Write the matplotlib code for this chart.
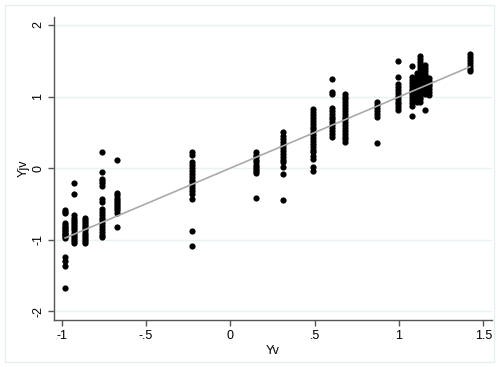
import matplotlib
matplotlib.use("Agg")
import matplotlib.pyplot as plt
from matplotlib.patches import Rectangle
import numpy as np

plt.rcParams['font.family'] = ['Liberation Sans', 'DejaVu Sans']

# cluster x positions (Yv) and Yjv values per cluster
cluster_x = [-0.98, -0.93, -0.86, -0.76, -0.675, -0.225, 0.15, 0.31, 0.49,
             0.60, 0.68, 0.87, 0.995, 1.075, 1.11, 1.125, 1.155, 1.18, 1.42]
cluster_y = [
    [-0.59, -0.61, -0.63, -0.77, -0.80, -0.82, -0.84, -0.86, -0.88, -0.90, -0.92, -0.94, -0.96, -0.98, -1.24, -1.30, -1.36, -1.68],
    [-0.21, -0.36, -0.66, -0.69, -0.72, -0.75, -0.78, -0.81, -0.84, -0.87, -0.90, -0.93, -0.96, -0.99, -1.02, -1.05],
    [-0.69, -0.72, -0.75, -0.78, -0.81, -0.84, -0.87, -0.90, -0.93, -0.96, -0.99, -1.02, -1.05],
    [0.22, -0.06, -0.15, -0.18, -0.21, -0.25, -0.43, -0.47, -0.57, -0.61, -0.65, -0.69, -0.73, -0.77, -0.81, -0.85, -0.89, -0.93, -0.96],
    [0.12, -0.35, -0.38, -0.41, -0.44, -0.47, -0.50, -0.53, -0.56, -0.59, -0.62, -0.82],
    [0.22, 0.18, 0.08, 0.04, 0.00, -0.04, -0.08, -0.12, -0.16, -0.20, -0.24, -0.28, -0.32, -0.36, -0.43, -0.88, -1.09],
    [0.22, 0.19, 0.15, 0.11, 0.08, 0.05, 0.02, -0.01, -0.04, -0.07, -0.41],
    [0.50, 0.45, 0.40, 0.36, 0.32, 0.28, 0.24, 0.20, 0.16, 0.12, 0.08, 0.01, -0.08, -0.45],
    [0.82, 0.78, 0.74, 0.70, 0.66, 0.62, 0.58, 0.54, 0.50, 0.46, 0.42, 0.38, 0.34, 0.30, 0.26, 0.22, 0.17, 0.13, 0.01, -0.04],
    [1.24, 1.06, 1.03, 0.84, 0.80, 0.76, 0.72, 0.68, 0.64, 0.60, 0.56, 0.52, 0.48, 0.43],
    [1.04, 1.00, 0.96, 0.92, 0.88, 0.84, 0.80, 0.76, 0.72, 0.68, 0.64, 0.60, 0.56, 0.52, 0.48, 0.44, 0.40, 0.37],
    [0.92, 0.88, 0.84, 0.80, 0.76, 0.72, 0.35],
    [1.50, 1.27, 1.17, 1.13, 1.09, 1.05, 1.01, 0.97, 0.93, 0.89, 0.85, 0.81],
    [1.43, 1.27, 1.23, 1.19, 1.15, 1.11, 1.07, 1.03, 0.99, 0.95, 0.91, 0.87, 0.73],
    [1.33, 1.29, 1.25, 1.21, 1.17, 1.13, 1.09, 1.05, 1.01, 0.97, 0.93],
    [1.56, 1.52, 1.48, 1.44, 1.40, 1.36, 1.32, 1.28, 1.24, 1.20, 1.16, 1.12, 1.08, 1.04, 1.00, 0.96, 0.92],
    [1.44, 1.40, 1.36, 1.32, 1.28, 1.24, 1.20, 1.16, 1.12, 1.08, 1.04, 0.81],
    [1.26, 1.22, 1.18, 1.14, 1.10, 1.06, 1.02],
    [1.59, 1.55, 1.51, 1.47, 1.43, 1.39, 1.36],
]

# linear fit
fit_x = [-0.98, 1.42]
fit_intercept = 0.0
fit_slope = 0.995

xticks = [-1, -0.5, 0, 0.5, 1, 1.5]
xticklabels = ["-1", "-.5", "0", ".5", "1", "1.5"]
yticks = [-2, -1, 0, 1, 2]
yticklabels = ["-2", "-1", "0", "1", "2"]

W, H = 499, 367
fig = plt.figure(figsize=(W / 100, H / 100), dpi=100)
fig.patch.set_facecolor("white")
fig.patches.append(Rectangle((5 / W, 5 / H), (W - 10) / W, (H - 10) / H,
                             transform=fig.transFigure, fill=False,
                             edgecolor="#e6eef0", linewidth=1.0))

ax = fig.add_axes([54 / W, (H - 320) / H, (492 - 54) / W, (320 - 17) / H])
ax.set_facecolor("white")

for xv, ys in zip(cluster_x, cluster_y):
    ax.scatter([xv] * len(ys), ys, s=20, color="black", linewidths=0, zorder=3)

fx = np.array(fit_x)
ax.plot(fx, fit_intercept + fit_slope * fx, color="#aaaaaa", linewidth=1.2, zorder=4)

ax.set_xlim(-1.046, 1.552)
ax.set_ylim(-2.12, 2.11)
ax.set_xticks(xticks)
ax.set_xticklabels(xticklabels)
ax.set_yticks(yticks)
ax.set_yticklabels(yticklabels, rotation=90, va="center")
ax.grid(axis="y", color="#eaf2f3", linewidth=1.0, zorder=0)
ax.set_axisbelow(True)

for s in ["top", "right"]:
    ax.spines[s].set_visible(False)
for s in ["left", "bottom"]:
    ax.spines[s].set_color("#555555")
    ax.spines[s].set_linewidth(1.0)
ax.tick_params(axis="both", direction="out", length=4, width=1, color="#555555",
               labelsize=9, labelcolor="black", pad=3)
ax.set_xlabel("Yv", fontsize=9, labelpad=2)
ax.set_ylabel("Yjv", fontsize=9, labelpad=2)

fig.savefig("out.png", dpi=100)
